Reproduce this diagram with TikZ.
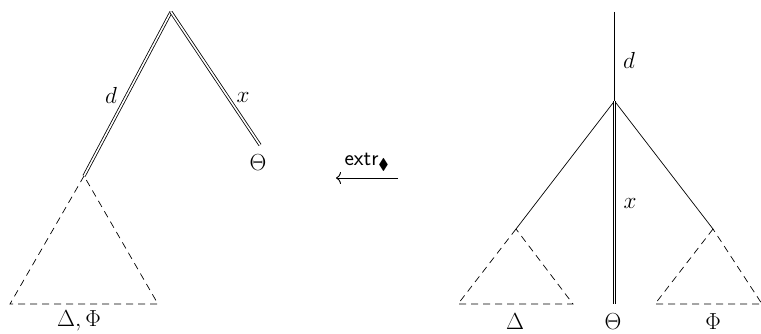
\documentclass[tikz,border=0pt]{standalone}
\usepackage{amssymb}
\usetikzlibrary{arrows.meta}
\begin{document}
\begin{tikzpicture}[x=1pt,y=-1pt,
  dbl/.style={double,double distance=1.6pt,line width=0.8pt},
  sgl/.style={line width=0.7pt},
  dsh/.style={line width=0.7pt,dash pattern=on 7pt off 5pt},
  lbl/.style={font=\huge,inner sep=0pt,scale=1.12,transform shape},
  every node/.style={inner sep=0pt}]
\useasboundingbox (0,0) rectangle (761,334);
% left tree
\coordinate (la) at (171,12);
\coordinate (ll) at (84,176);
\coordinate (lr) at (260,145);
\node[lbl] (lth) at (258,163) {$\Theta$};
\draw[dbl] (la) -- (ll);
\draw[dbl] (la) -- (lr);
\node[lbl] (ld) at (111,95) {$d$};
\node[lbl] (lx) at (243,98) {$x$};
\coordinate (lbl1) at (10,304);
\coordinate (lbr1) at (158,304);
\draw[dsh] (ll) -- (lbl1) -- (lbr1) -- cycle;
\node[lbl] (ldf) at (79,321) {$\Delta,\Phi$};
% arrow
\coordinate (as) at (398,178);
\coordinate (ae) at (336,178);
\draw[line width=0.9pt,-{To[length=5pt,width=12pt]}] (as) -- (ae);
\node[font=\huge\sffamily,scale=1.08,transform shape] (ext) at (367,162) {extr$_{\blacklozenge}$};
% right tree
\coordinate (rt) at (614.5,12);
\coordinate (rj) at (614.5,101);
\coordinate (rl) at (516,229);
\coordinate (rr) at (713,229);
\coordinate (rb) at (614.5,304);
\draw[sgl] (rt) -- (rj);
\draw[sgl] (rj) -- (rl);
\draw[sgl] (rj) -- (rr);
\draw[dbl] (rj) -- (rb);
\node[lbl] (rd) at (629,60) {$d$};
\node[lbl] (rx) at (630,203) {$x$};
\node[lbl] (rth) at (613,322) {$\Theta$};
\coordinate (dl) at (458,304);
\coordinate (dr) at (573,304);
\draw[dsh] (rl) -- (dl) -- (dr) -- cycle;
\node[lbl] (rdl) at (515,322) {$\Delta$};
\coordinate (fl) at (655,304);
\coordinate (fr) at (762,304);
\draw[dsh] (rr) -- (fl) -- (fr) -- cycle;
\node[lbl] (rph) at (713,322) {$\Phi$};
\end{tikzpicture}
\end{document}
